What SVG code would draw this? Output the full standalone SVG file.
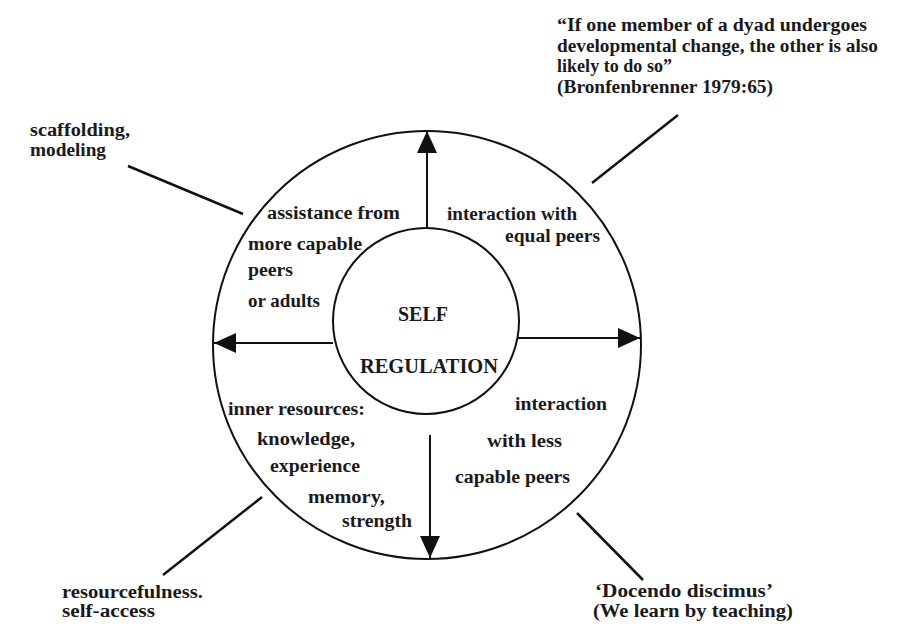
<svg xmlns="http://www.w3.org/2000/svg" width="899" height="643" viewBox="0 0 899 643">
<style>
.t{font-family:"Liberation Serif","Times New Roman",serif;font-weight:bold;font-size:18px;fill:#1a1a1a}
.big{font-size:20px}
.c{fill:none;stroke:#111;stroke-width:2}
.l{stroke:#111;stroke-width:2.5;fill:none}
.a{stroke:#111;stroke-width:2;fill:none;marker-end:url(#ah)}
</style>
<defs>
<marker id="ah" viewBox="0 0 22 20" refX="22" refY="10" markerWidth="22" markerHeight="20" orient="auto" markerUnits="userSpaceOnUse">
<path d="M0,0 L22,10 L0,20 Z" fill="#111"/>
</marker>
</defs>
<rect width="899" height="643" fill="#fff"/>
<g id="outer"><circle class="c" cx="427" cy="345" r="214"/></g>
<g id="inner">
<circle class="c" cx="426" cy="321" r="93"/>
<text class="t big" x="398" y="321" textLength="50" lengthAdjust="spacingAndGlyphs">SELF</text>
<text class="t big" x="360" y="373" textLength="138" lengthAdjust="spacingAndGlyphs">REGULATION</text>
</g>
<g id="connectors">
<line class="a" x1="427" y1="228" x2="427" y2="131"/>
<line class="a" x1="333" y1="343" x2="214" y2="343"/>
<line class="a" x1="518" y1="338" x2="640" y2="338"/>
<line class="a" x1="430" y1="435" x2="430" y2="558"/>
<line class="l" x1="128" y1="166" x2="243" y2="214"/>
<line class="l" x1="592" y1="183" x2="678" y2="115"/>
<line class="l" x1="262" y1="497" x2="163" y2="575"/>
<line class="l" x1="577" y1="513" x2="643" y2="580"/>
</g>
<g id="assistance">
<text class="t" x="267" y="219" textLength="133" lengthAdjust="spacingAndGlyphs">assistance from</text>
<text class="t" x="248" y="250" textLength="114" lengthAdjust="spacingAndGlyphs">more capable</text>
<text class="t" x="248" y="276" textLength="45" lengthAdjust="spacingAndGlyphs">peers</text>
<text class="t" x="248" y="307" textLength="72" lengthAdjust="spacingAndGlyphs">or adults</text>
</g>
<g id="equal">
<text class="t" x="447" y="220" textLength="130" lengthAdjust="spacingAndGlyphs">interaction with</text>
<text class="t" x="505" y="242" textLength="95" lengthAdjust="spacingAndGlyphs">equal peers</text>
</g>
<g id="innerres">
<text class="t" x="228" y="415" textLength="137" lengthAdjust="spacingAndGlyphs">inner resources:</text>
<text class="t" x="257" y="445" textLength="98" lengthAdjust="spacingAndGlyphs">knowledge,</text>
<text class="t" x="270" y="472" textLength="90" lengthAdjust="spacingAndGlyphs">experience</text>
<text class="t" x="308" y="503" textLength="77" lengthAdjust="spacingAndGlyphs">memory,</text>
<text class="t" x="342" y="527" textLength="70" lengthAdjust="spacingAndGlyphs">strength</text>
</g>
<g id="lesscapable">
<text class="t" x="515" y="410" textLength="92" lengthAdjust="spacingAndGlyphs">interaction</text>
<text class="t" x="487" y="447" textLength="75" lengthAdjust="spacingAndGlyphs">with less</text>
<text class="t" x="455" y="483" textLength="115" lengthAdjust="spacingAndGlyphs">capable peers</text>
</g>
<g id="quote">
<text class="t" x="557" y="31" textLength="310" lengthAdjust="spacingAndGlyphs">“If one member of a dyad undergoes</text>
<text class="t" x="557" y="52" textLength="321" lengthAdjust="spacingAndGlyphs">developmental change, the other is also</text>
<text class="t" x="557" y="72" textLength="115" lengthAdjust="spacingAndGlyphs">likely to do so”</text>
<text class="t" x="557" y="93" textLength="216" lengthAdjust="spacingAndGlyphs">(Bronfenbrenner 1979:65)</text>
</g>
<g id="scaffolding">
<text class="t" x="30" y="136" textLength="100" lengthAdjust="spacingAndGlyphs">scaffolding,</text>
<text class="t" x="30" y="156" textLength="76" lengthAdjust="spacingAndGlyphs">modeling</text>
</g>
<g id="resourcefulness">
<text class="t" x="62" y="598" textLength="141" lengthAdjust="spacingAndGlyphs">resourcefulness.</text>
<text class="t" x="62" y="617" textLength="93" lengthAdjust="spacingAndGlyphs">self-access</text>
</g>
<g id="docendo">
<text class="t" x="595" y="597" textLength="178" lengthAdjust="spacingAndGlyphs">‘Docendo discimus’</text>
<text class="t" x="593" y="617" textLength="200" lengthAdjust="spacingAndGlyphs">(We learn by teaching)</text>
</g>
</svg>
